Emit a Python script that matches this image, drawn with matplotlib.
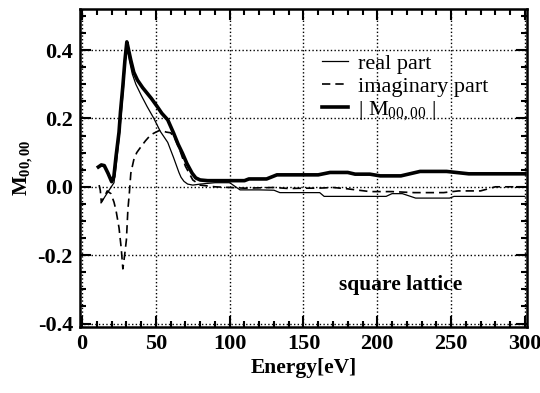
import numpy as np
import matplotlib
matplotlib.use('Agg')
import matplotlib.pyplot as plt
from matplotlib.ticker import MultipleLocator

plt.rcParams['font.family'] = 'serif'
plt.rcParams['font.serif'] = ['Liberation Serif', 'DejaVu Serif']
plt.rcParams['mathtext.fontset'] = 'custom'
plt.rcParams['mathtext.rm'] = 'Liberation Serif'
plt.rcParams['mathtext.bf'] = 'Liberation Serif:bold'
plt.rcParams['mathtext.it'] = 'Liberation Serif:italic'
plt.rcParams['axes.unicode_minus'] = False

# |M00,00| (thick)
abs_e = [11, 13, 15, 17.5, 20, 21.5, 23, 25, 26, 27.5, 29, 30.3, 31, 33, 35, 37.5, 41, 44, 47, 51,
         54, 58, 62, 65, 68, 71, 74.5, 77, 80, 85, 90, 100, 110, 113, 125, 132, 140, 150, 160, 168,
         180, 185, 195, 202, 206, 216, 229, 247, 262, 280, 300]
abs_m = [0.058, 0.064, 0.062, 0.04, 0.015, 0.03, 0.09, 0.16, 0.22, 0.29, 0.37, 0.424, 0.41, 0.37,
         0.335, 0.312, 0.29, 0.274, 0.258, 0.234, 0.215, 0.196, 0.157, 0.125, 0.098, 0.068, 0.04,
         0.026, 0.02, 0.018, 0.018, 0.018, 0.018, 0.023, 0.023, 0.035, 0.035, 0.035, 0.035, 0.042,
         0.042, 0.037, 0.037, 0.032, 0.032, 0.032, 0.045, 0.045, 0.038, 0.038, 0.038]

# real part (thin)
re_e = [12.8, 16, 19, 21.6, 23, 25, 26.5, 28, 29.5, 30.5, 32, 34, 36.4, 40, 44, 48.6, 53, 58, 62,
        65.6, 67, 69, 71.5, 75, 80, 90, 100, 107, 120, 130, 134, 150, 161, 164, 180, 195, 206, 210,
        217, 226, 249, 252, 270, 300]
re_m = [-0.047, -0.025, -0.005, 0.012, 0.06, 0.14, 0.21, 0.29, 0.38, 0.41, 0.37, 0.33, 0.3, 0.268,
        0.235, 0.2, 0.162, 0.13, 0.085, 0.042, 0.028, 0.016, 0.008, 0.005, 0.008, 0.012, 0.012,
        -0.009, -0.009, -0.01, -0.017, -0.017, -0.017, -0.028, -0.028, -0.028, -0.028, -0.02, -0.02,
        -0.033, -0.033, -0.028, -0.028, -0.028]

# imaginary part (dashed)
im_e = [11.5, 12.3, 13, 15, 17, 19.5, 21.6, 23, 25, 26.5, 27.6, 28.8, 30, 31, 32, 33, 35, 37, 40,
        43, 46.5, 50, 53, 57, 60, 63, 66, 70, 75, 80, 90, 100, 110, 120, 130, 140, 150, 160, 170,
        180, 195, 210, 225, 245, 255, 270, 280, 300]
im_m = [0.005, -0.01, -0.045, -0.03, -0.012, -0.02, -0.045, -0.07, -0.12, -0.18, -0.24, -0.2,
        -0.155, -0.067, -0.018, 0.04, 0.079, 0.1, 0.118, 0.135, 0.152, 0.16, 0.166, 0.16, 0.158,
        0.14, 0.11, 0.06, 0.02, 0.005, 0.0, -0.002, -0.004, -0.003, -0.002, -0.005, -0.004, -0.004,
        -0.002, -0.006, -0.014, -0.014, -0.017, -0.017, -0.012, -0.012, 0.0, 0.0]

fig = plt.figure(figsize=(5.4, 3.93), dpi=100)
ax = fig.add_axes([0.148, 0.168, 0.828, 0.809])

ax.plot(re_e, re_m, color='black', lw=0.9, label='real part')
ax.plot(im_e, im_m, color='black', lw=1.2, dashes=(5, 3), label='imaginary part')
ax.plot(abs_e, abs_m, color='black', lw=2.6, label=r'| M$_{\mathrm{00,00}}$ |')

ax.set_xlim(-1.5, 301.5)
ax.set_ylim(-0.41, 0.52)
ax.xaxis.set_major_locator(MultipleLocator(50))
ax.xaxis.set_minor_locator(MultipleLocator(10))
ax.yaxis.set_major_locator(MultipleLocator(0.2))
ax.yaxis.set_minor_locator(MultipleLocator(0.05))
ax.yaxis.set_major_formatter(matplotlib.ticker.FormatStrFormatter('%.1f'))
ax.tick_params(which='both', direction='in', top=True, right=True, width=1.5)
ax.tick_params(which='major', length=8, labelsize=16, pad=5)
ax.tick_params(which='minor', length=4)
for lab in ax.get_xticklabels() + ax.get_yticklabels():
    lab.set_fontweight('bold')
for s in ax.spines.values():
    s.set_linewidth(1.8)
ax.grid(True, which='major', linestyle=':', color='black', lw=1.0)

ax.set_xlabel('Energy[eV]', fontsize=15.5, fontweight='bold', labelpad=3)
ax.set_ylabel(r'M$_{\mathbf{00,00}}$', fontsize=15, fontweight='bold', labelpad=2)

ax.text(216, -0.286, 'square lattice', fontsize=15.5, fontweight='bold', ha='center', va='center')

leg = ax.legend(loc='upper left', bbox_to_anchor=(0.541, 0.86), frameon=False, fontsize=16,
                handlelength=1.2, handletextpad=0.45, labelspacing=0.1, borderpad=0,
                borderaxespad=0)

fig.savefig('out.png', dpi=100)
